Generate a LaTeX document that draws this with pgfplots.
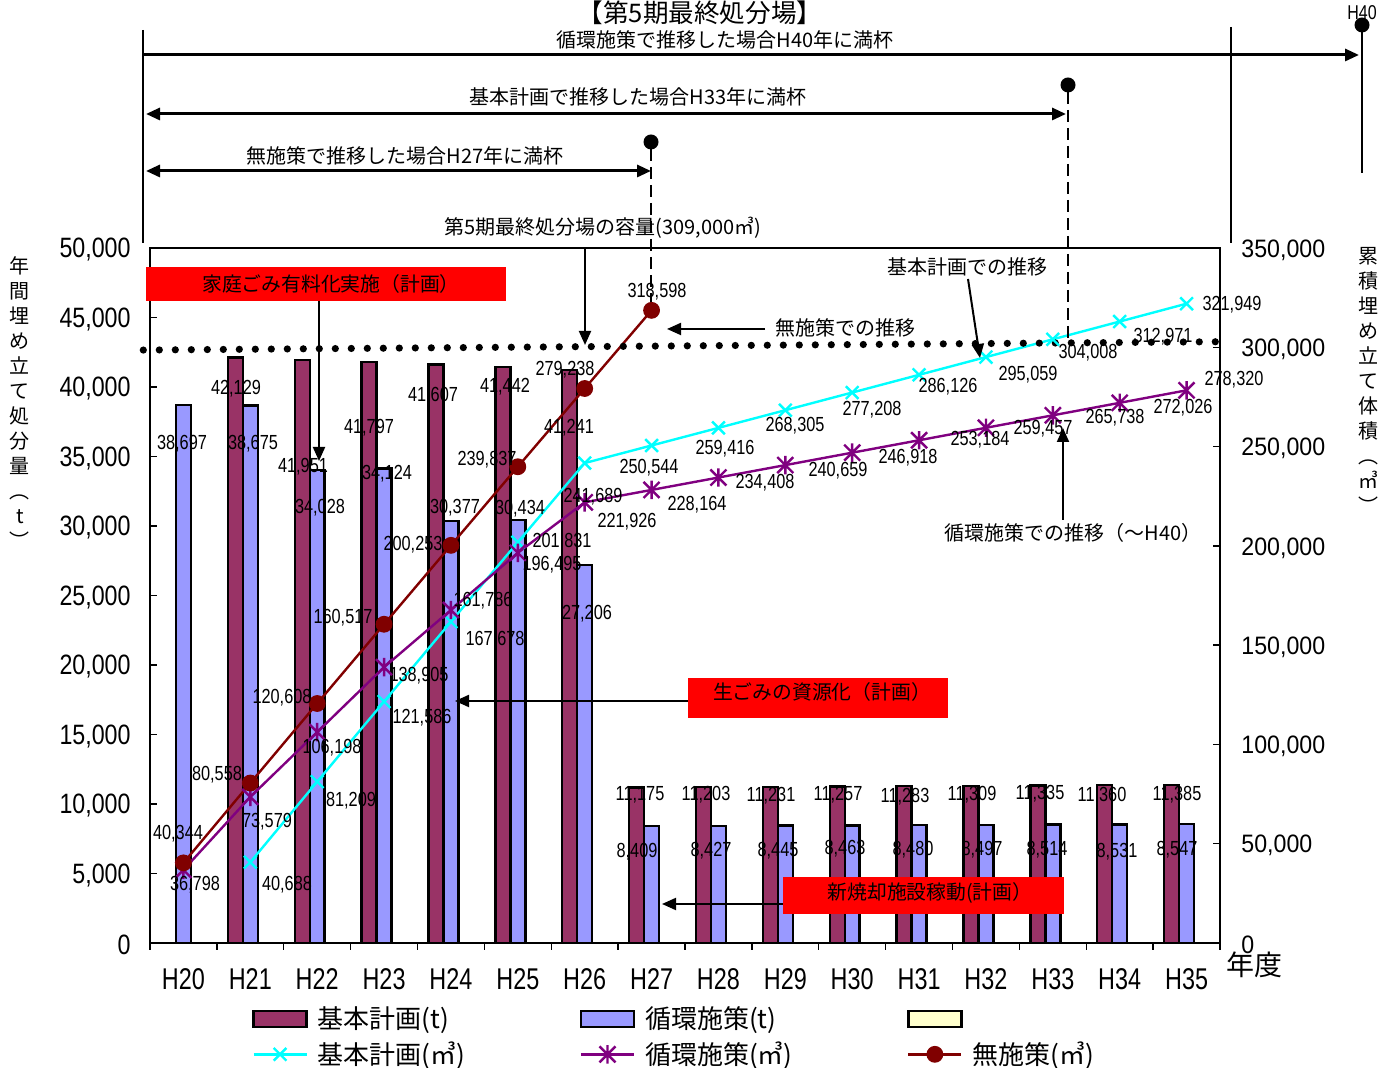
\documentclass[border=0pt]{standalone}
\usepackage{fontspec}
\setmainfont{Noto Sans CJK JP}
\newfontfamily\lab[FakeStretch=0.8]{Liberation Sans}
\newfontfamily\tickl[FakeStretch=0.83]{Liberation Sans}
\newfontfamily\tickr[FakeStretch=0.92]{Liberation Sans}
\newfontfamily\catf[FakeStretch=0.78]{Liberation Sans}
\usepackage{pgfplots}
\pgfplotsset{compat=1.18}
\usetikzlibrary{arrows.meta}
\definecolor{cRed}{RGB}{153,51,102}
\definecolor{cBlue}{RGB}{153,153,255}
\definecolor{cCyan}{RGB}{0,255,255}
\definecolor{cPurple}{RGB}{128,0,128}
\definecolor{cMaroon}{RGB}{128,0,0}
\definecolor{cYellow}{RGB}{255,255,204}
\pgfdeclareplotmark{xstar}{%
  \pgfpathmoveto{\pgfpoint{-\pgfplotmarksize}{-\pgfplotmarksize}}%
  \pgfpathlineto{\pgfpoint{\pgfplotmarksize}{\pgfplotmarksize}}%
  \pgfpathmoveto{\pgfpoint{-\pgfplotmarksize}{\pgfplotmarksize}}%
  \pgfpathlineto{\pgfpoint{\pgfplotmarksize}{-\pgfplotmarksize}}%
  \pgfpathmoveto{\pgfpoint{0pt}{-1.15\pgfplotmarksize}}%
  \pgfpathlineto{\pgfpoint{0pt}{1.15\pgfplotmarksize}}%
  \pgfusepathqstroke}
\pgfplotsset{
  myline/.style={legend image code/.code={\draw[mark repeat=2,mark phase=2,##1] plot coordinates {(0pt,0pt) (13.25pt,0pt) (26.5pt,0pt)};}},
  mybar/.style={legend image code/.code={\draw[line width=1.2pt,draw=black,##1] (0pt,-4pt) rectangle (26.5pt,4pt);}},
}
\newcommand{\dl}[3]{\node[font=\fontsize{10.2}{10.2}\lab, inner sep=0pt] at (#1,#2) {#3};}
\begin{document}
\begin{tikzpicture}
\path[use as bounding box] (-75pt,-62.5pt) rectangle (623pt,471.5pt);
% ---------- axis 1: bars (t)
\begin{axis}[
  at={(0pt,0pt)}, anchor=south west,
  scale only axis, width=535pt, height=347.5pt,
  xmin=-0.5, xmax=15.5, ymin=0, ymax=50000,
  axis line style={line width=1pt, black},
  xtick={-0.5,0.5,...,15.5},
  x tick label as interval,
  xticklabels={H20,H21,H22,H23,H24,H25,H26,H27,H28,H29,H30,H31,H32,H33,H34,H35},
  xticklabel style={font=\fontsize{15}{15}\catf, inner sep=0pt, anchor=north, yshift=-9pt},
  ytick={0,5000,...,50000},
  ytick pos=left, xtick pos=bottom,
  tick align=inside, major tick length=3.5pt,
  tick style={black, line width=0.7pt},
  scaled ticks=false,
  yticklabel style={/pgf/number format/fixed, /pgf/number format/1000 sep={,}, /pgf/number format/assume math mode=true,
     font=\fontsize{14}{14}\tickl, anchor=east, inner sep=0pt, xshift=-9.5pt, yshift=-1pt},
  ybar, bar width=0.224,
]
\addplot[fill=cRed, draw=black, line width=1.2pt, bar shift=-0.224] coordinates {
 (1,42129) (2,41951) (3,41797) (4,41607) (5,41442) (6,41241) (7,11175) (8,11203)
 (9,11231) (10,11257) (11,11283) (12,11309) (13,11335) (14,11360) (15,11385)};
\addplot[fill=cBlue, draw=black, line width=1.2pt, bar shift=0] coordinates {
 (0,38697) (1,38675) (2,34028) (3,34124) (4,30377) (5,30434) (6,27206) (7,8409) (8,8427)
 (9,8445) (10,8463) (11,8480) (12,8497) (13,8514) (14,8531) (15,8547)};
\end{axis}
% ---------- axis 2: cumulative (m3)
\begin{axis}[
  at={(0pt,0pt)}, anchor=south west,
  scale only axis, width=535pt, height=347.5pt,
  xmin=-0.5, xmax=15.5, ymin=0, ymax=350000,
  axis x line=none, axis y line*=right,
  axis line style={line width=1pt, black},
  ytick={0,50000,...,350000},
  tick align=inside, major tick length=3.5pt,
  tick style={black, line width=0.7pt},
  scaled ticks=false,
  yticklabel style={/pgf/number format/fixed, /pgf/number format/1000 sep={,}, /pgf/number format/assume math mode=true,
     font=\fontsize{12.6}{12.6}\tickr, anchor=west, inner sep=0pt, xshift=10.5pt, yshift=-1pt},
  clip=false,
  legend columns=3,
  legend style={at={(0.0953,-0.088)}, anchor=north west, draw=none, fill=none, inner sep=0pt,
     font=\fontsize{13}{13}\selectfont, row sep=3pt,
     nodes={inner sep=1pt},
     /tikz/every odd column/.append style={column sep=4pt},
     /tikz/every even column/.append style={column sep=5pt}},
  legend cell align=left,
]
\addlegendimage{mybar, fill=cRed}
\addlegendentry{\makebox[125pt][l]{基本計画(t)}}
\addlegendimage{mybar, fill=cBlue}
\addlegendentry{\makebox[125pt][l]{循環施策(t)}}
\addlegendimage{mybar, fill=cYellow}
\addlegendentry{\makebox[125pt][l]{}}
\addplot[myline, color=cCyan, line width=1.2pt, mark=x, mark size=4.5pt, mark options={line width=1.2pt}] coordinates {
 (1,40688) (2,81209) (3,121586) (4,161786) (5,201831) (6,241689) (7,250544) (8,259416)
 (9,268305) (10,277208) (11,286126) (12,295059) (13,304008) (14,312971) (15,321949)};
\addlegendentry{\makebox[125pt][l]{基本計画(㎥)}}
\addplot[myline, color=cPurple, line width=1.2pt, mark=xstar, mark size=4pt, mark options={line width=1.2pt}] coordinates {
 (0,36798) (1,73579) (2,106198) (3,138905) (4,167678) (5,196495) (6,221926) (7,228164) (8,234408)
 (9,240659) (10,246918) (11,253184) (12,259457) (13,265738) (14,272026) (15,278320)};
\addlegendentry{\makebox[125pt][l]{循環施策(㎥)}}
\addplot[myline, color=cMaroon, line width=1.2pt, mark=*, mark size=3.6pt] coordinates {
 (0,40344) (1,80558) (2,120608) (3,160517) (4,200253) (5,239837) (6,279238) (7,318598)};
\addlegendentry{\makebox[125pt][l]{無施策(㎥)}}
% capacity dotted line
\addplot[forget plot, black, line width=3.6pt, line cap=round, dash pattern=on 0pt off 8pt] coordinates {
 (-0.6,298600) (15.5,302800)};
\end{axis}
% ---------- annotations in reference pixel coordinates
\begin{scope}[x=0.5pt, y=-0.5pt, shift={(-75pt,471.5pt)}]
 \node[font=\fontsize{12.8}{12.8}\selectfont, inner sep=0pt] at (700,13) {【第5期最終処分場】};
 \draw[line width=0.9pt] (143,30) -- (143,243);
 \draw[line width=0.9pt] (1231,27) -- (1231,243);
 \draw[line width=1.2pt] (1362,25) -- (1362,173);
 \fill (1362,25) circle (7.5);
 \node[font=\fontsize{10}{10}\lab, inner sep=0pt] at (1362,13) {H40};
 \draw[line width=1.5pt, -{Triangle[length=7pt,width=6pt]}] (143,55) -- (1359,55);
 \node[font=\fontsize{10}{10}\selectfont, inner sep=0pt] at (725,40) {循環施策で推移した場合H40年に満杯};
 \draw[line width=1.5pt, {Triangle[length=7pt,width=6pt]}-{Triangle[length=7pt,width=6pt]}] (146,114) -- (1066,114);
 \node[font=\fontsize{10}{10}\selectfont, inner sep=0pt] at (638,97) {基本計画で推移した場合H33年に満杯};
 \fill (1068,85) circle (7.5);
 \draw[line width=1.1pt, dash pattern=on 6pt off 3pt] (1068,92) -- (1068,340);
 \draw[line width=1.5pt, {Triangle[length=7pt,width=6pt]}-{Triangle[length=7pt,width=6pt]}] (146,171) -- (651,171);
 \node[font=\fontsize{10}{10}\selectfont, inner sep=0pt] at (405,156) {無施策で推移した場合H27年に満杯};
 \fill (651,142) circle (7.5);
 \draw[line width=1.1pt, dash pattern=on 6pt off 3pt] (651,149) -- (651,302);
 \node[font=\fontsize{10}{10}\selectfont, inner sep=0pt] at (603,228) {第5期最終処分場の容量(309,000㎥)};
 \draw[line width=1pt, -{Triangle[length=7pt,width=6pt]}] (585,249) -- (585,345);
 % red boxes
 \fill[red] (146,267) rectangle (506,301);
 \node[font=\fontsize{9.9}{9.9}\selectfont, inner sep=0pt] at (331,284) {家庭ごみ有料化実施（計画）};
 \draw[line width=1pt, -{Triangle[length=7pt,width=6pt]}] (319,301) -- (319,461);
 \fill[red] (688,678) rectangle (948,718);
 \node[font=\fontsize{9.9}{9.9}\selectfont, inner sep=0pt] at (822,692) {生ごみの資源化（計画）};
 \draw[line width=1pt, -{Triangle[length=7pt,width=6pt]}] (688,701) -- (455,701);
 \fill[red] (783,877) rectangle (1064,914);
 \node[font=\fontsize{9.9}{9.9}\selectfont, inner sep=0pt] at (930,893) {新焼却施設稼動(計画）};
 \draw[line width=1pt, -{Triangle[length=7pt,width=6pt]}] (783,904) -- (662,904);
 % trend notes
 \node[font=\fontsize{10}{10}\selectfont, inner sep=0pt] at (845,328) {無施策での推移};
 \draw[line width=1pt, -{Triangle[length=7pt,width=6pt]}] (765,329) -- (667,329);
 \node[font=\fontsize{10}{10}\selectfont, inner sep=0pt] at (967,267) {基本計画での推移};
 \draw[line width=1pt, -{Triangle[length=7pt,width=6pt]}] (968,279) -- (980,358);
 \node[font=\fontsize{10}{10}\selectfont, inner sep=0pt] at (1073,533) {循環施策での推移（～H40）};
 \draw[line width=1pt, -{Triangle[length=7pt,width=6pt]}] (1063,520) -- (1063,428);
 % axis titles
 \node[font=\fontsize{10}{12.5}\selectfont, align=center, inner sep=0pt] at (20,403) {年\\間\\埋\\め\\立\\て\\処\\分\\量\\︵\\t\\︶};
 \node[font=\fontsize{10}{12.5}\selectfont, align=center, inner sep=0pt] at (1368,380) {累\\積\\埋\\め\\立\\て\\体\\積\\︵\\㎥\\︶};
 \node[font=\fontsize{14}{14}\selectfont, inner sep=0pt] at (1254,965) {年度};
 % data labels: 基本計画(t)
 \dl{236}{389}{42,129} \dl{303}{467}{41,951} \dl{369}{428}{41,797} \dl{433}{396}{41,607}
 \dl{505}{387}{41,442} \dl{569}{428}{41,241} \dl{640}{795}{11,175} \dl{706}{795}{11,203}
 \dl{771}{796}{11,231} \dl{838}{795}{11,257} \dl{905}{797}{11,283} \dl{972}{795}{11,309}
 \dl{1040}{794}{11,335} \dl{1102}{796}{11,360} \dl{1177}{795}{11,385}
 % 循環施策(t)
 \dl{182}{444}{38,697} \dl{253}{444}{38,675} \dl{320}{508}{34,028} \dl{387}{474}{34,124}
 \dl{455}{508}{30,377} \dl{520}{509}{30,434} \dl{587}{614}{27,206} \dl{637}{852}{8,409}
 \dl{711}{851}{8,427} \dl{778}{851}{8,445} \dl{845}{849}{8,463} \dl{913}{850}{8,480}
 \dl{982}{850}{8,497} \dl{1047}{850}{8,514} \dl{1117}{852}{8,531} \dl{1177}{850}{8,547}
 % 無施策(m3)
 \dl{178}{834}{40,344} \dl{217}{775}{80,558} \dl{282}{698}{120,608} \dl{343}{618}{160,517}
 \dl{413}{545}{200,253} \dl{487}{460}{239,837} \dl{565}{370}{279,238} \dl{657}{292}{318,598}
 % 循環施策(m3)
 \dl{195}{885}{36,798} \dl{267}{822}{73,579} \dl{332}{748}{106,198} \dl{419}{676}{138,905}
 \dl{495}{640}{167,678} \dl{552}{565}{196,495} \dl{627}{522}{221,926} \dl{697}{505}{228,164}
 \dl{765}{483}{234,408} \dl{838}{471}{240,659} \dl{908}{458}{246,918} \dl{980}{440}{253,184}
 \dl{1043}{429}{259,457} \dl{1115}{418}{265,738} \dl{1183}{408}{272,026} \dl{1234}{380}{278,320}
 % 基本計画(m3)
 \dl{287}{885}{40,688} \dl{351}{801}{81,209} \dl{422}{718}{121,586} \dl{483}{601}{161,786}
 \dl{562}{542}{201,831} \dl{593}{497}{241,689} \dl{649}{468}{250,544} \dl{725}{449}{259,416}
 \dl{795}{426}{268,305} \dl{872}{410}{277,208} \dl{948}{387}{286,126} \dl{1028}{375}{295,059}
 \dl{1088}{353}{304,008} \dl{1163}{337}{312,971} \dl{1232}{305}{321,949}
\end{scope}
\end{tikzpicture}
\end{document}
